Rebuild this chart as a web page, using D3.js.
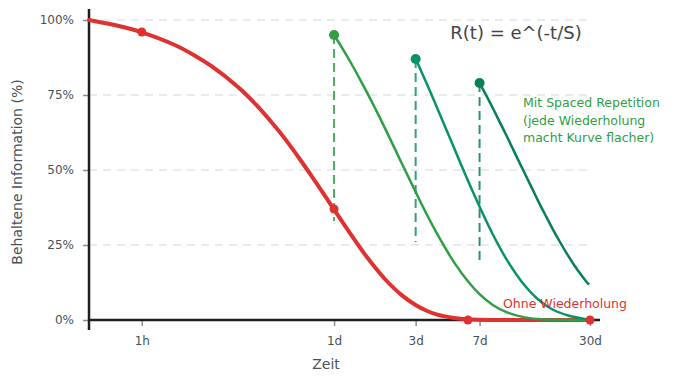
<!DOCTYPE html>
<html>
<head>
<meta charset="utf-8">
<script src="https://cdn.jsdelivr.net/npm/d3@7"></script>
<style>
  body { margin: 0; background: #fff; }
  text { font-family: "DejaVu Sans", "Noto Sans", sans-serif; }
</style>
</head>
<body>
<script>
var width = 696;
var height = 385;

// x in hours, y in percent
var yTicks = [0, 25, 50, 75, 100];
var xTickHours = [1, 24, 72, 168, 720];
var xTickLabels = ["1h", "1d", "3d", "7d", "30d"];

var redHours = [0, 0.5, 1, 2, 3, 4, 6, 8, 10, 12, 15, 18, 21, 24, 30, 36, 42, 48, 60, 72, 84, 96, 120, 144, 200, 300, 720];
var redValues = [100, 97.9, 95.9, 92, 88.2, 84.6, 77.9, 71.7, 65.9, 60.7, 53.5, 47.2, 41.7, 36.8, 28.7, 22.3, 17.4, 13.5, 8.2, 5, 3, 1.8, 0.7, 0.25, 0.02, 0, 0];
var redDotHours = [1, 24, 144, 720];
var redDotValues = [96, 37, 0, 0];

var rep1Hours = [24, 27, 30, 36, 42, 48, 60, 72, 84, 96, 120, 144, 168, 200, 240, 300, 360, 480, 720];
var rep1Values = [95, 90.4, 86, 77.8, 70.4, 63.7, 52.1, 42.7, 34.9, 28.6, 19.2, 12.9, 8.6, 5, 2.6, 0.96, 0.35, 0.05, 0];
var rep2Hours = [72, 78, 84, 90, 96, 108, 120, 132, 144, 168, 200, 240, 290, 360, 440, 540, 640, 720];
var rep2Values = [87, 82.6, 78.4, 74.4, 70.6, 63.6, 57.3, 51.6, 46.5, 37.8, 28.6, 20.2, 13.1, 7.1, 3.5, 1.5, 0.6, 0];
var rep3Hours = [168, 180, 190, 205, 220, 240, 260, 280, 298, 330, 363, 400, 440, 485, 530, 580, 640, 680, 711];
var rep3Values = [79, 75.8, 73.2, 69.4, 65.8, 61.4, 57.2, 53.3, 50.1, 44.8, 39.8, 35, 30.4, 26, 22.2, 18.6, 15.1, 13.1, 11.8];

var peakHours = [24, 72, 168];
var peakValues = [95, 87, 79];
var dropValues = [33, 26, 19.5];
var repColors = ["#2f9e44", "#099268", "#087f5b"];

var svg = d3.select("body").append("svg").attr("width", width).attr("height", height);

var x = d3.scaleSymlog().constant(1).domain([0, 720]).range([89, 590]);
var y = d3.scaleLinear().domain([0, 100]).range([320, 20]);

// grid
svg.selectAll("line.grid")
    .data(yTicks.filter(function (d) { return d > 0; }))
    .enter()
    .append("line")
    .attr("class", "grid")
    .attr("x1", 89).attr("x2", 590)
    .attr("y1", function (d) { return y(d); })
    .attr("y2", function (d) { return y(d); })
    .style("stroke", "#e1e5ea")
    .style("stroke-width", 1.5)
    .style("stroke-dasharray", "8,6");

// y axis
var yAxis = svg.append("g").attr("transform", "translate(89,0)")
    .call(d3.axisLeft(y).tickValues(yTicks).tickSize(6).tickFormat(function (d) { return d + "%"; }));
yAxis.select(".domain").remove();
yAxis.selectAll(".tick line").style("stroke", "#868e96").style("stroke-width", 1.5);
yAxis.selectAll(".tick text").attr("x", -15).style("font-size", "12px").style("fill", "#495057");

// x axis
var xAxis = svg.append("g").attr("transform", "translate(0,320)")
    .call(d3.axisBottom(x).tickValues(xTickHours).tickSize(6).tickFormat(function (d, i) { return xTickLabels[i]; }));
xAxis.select(".domain").remove();
xAxis.selectAll(".tick line").style("stroke", "#868e96").style("stroke-width", 1.5);
xAxis.selectAll(".tick text").attr("y", 16).style("font-size", "12px").style("fill", "#495057");

svg.append("line").attr("x1", 89).attr("x2", 600).attr("y1", 320).attr("y2", 320)
    .style("stroke", "#1e1e1e").style("stroke-width", 2.5);
svg.append("line").attr("x1", 89).attr("x2", 89).attr("y1", 9).attr("y2", 330)
    .style("stroke", "#1e1e1e").style("stroke-width", 2.5);

var line = d3.line()
    .x(function (d) { return x(d[0]); })
    .y(function (d) { return y(d[1]); })
    .curve(d3.curveCatmullRom.alpha(0.5));

function pairs(hs, vs) {
    return hs.map(function (h, i) { return [h, vs[i]]; });
}

// dashed drops at repetition
svg.selectAll("line.drop")
    .data(peakHours)
    .enter()
    .append("line")
    .attr("class", "drop")
    .attr("x1", function (d) { return x(d); })
    .attr("x2", function (d) { return x(d); })
    .attr("y1", function (d, i) { return y(peakValues[i]); })
    .attr("y2", function (d, i) { return y(dropValues[i]); })
    .style("stroke", function (d, i) { return repColors[i]; })
    .style("stroke-opacity", 0.85)
    .style("stroke-width", 2)
    .style("stroke-dasharray", "9,5");

// red curve
svg.append("path")
    .datum(pairs(redHours, redValues))
    .attr("d", line)
    .style("fill", "none")
    .style("stroke", "#e03131")
    .style("stroke-width", 4)
    .style("stroke-linecap", "round");

// repetition curves
var reps = [pairs(rep1Hours, rep1Values), pairs(rep2Hours, rep2Values), pairs(rep3Hours, rep3Values)];
svg.selectAll("path.rep")
    .data(reps)
    .enter()
    .append("path")
    .attr("class", "rep")
    .attr("d", line)
    .style("fill", "none")
    .style("stroke", function (d, i) { return repColors[i]; })
    .style("stroke-width", 2.5);

svg.selectAll("circle.red")
    .data(redDotHours)
    .enter()
    .append("circle")
    .attr("class", "red")
    .attr("cx", function (d) { return x(d); })
    .attr("cy", function (d, i) { return y(redDotValues[i]); })
    .attr("r", 4.5)
    .style("fill", "#e03131");

svg.selectAll("circle.peak")
    .data(peakHours)
    .enter()
    .append("circle")
    .attr("class", "peak")
    .attr("cx", function (d) { return x(d); })
    .attr("cy", function (d, i) { return y(peakValues[i]); })
    .attr("r", 5)
    .style("fill", function (d, i) { return repColors[i]; });

// texts
svg.append("text").attr("x", 516).attr("y", 39).attr("text-anchor", "middle")
    .style("font-size", "18px").style("fill", "#444").text("R(t) = e^(-t/S)");

var noteLines = ["Mit Spaced Repetition", "(jede Wiederholung", "macht Kurve flacher)"];
svg.selectAll("text.note")
    .data(noteLines)
    .enter()
    .append("text")
    .attr("class", "note")
    .attr("x", 523)
    .attr("y", function (d, i) { return 107 + i * 17.5; })
    .style("font-size", "12.5px")
    .style("fill", "#2f9e44")
    .text(function (d) { return d; });

svg.append("text").attr("x", 503).attr("y", 308)
    .style("font-size", "12.5px").style("fill", "#e03131").text("Ohne Wiederholung");

svg.append("text").attr("x", 326).attr("y", 369).attr("text-anchor", "middle")
    .style("font-size", "14px").style("fill", "#495057").text("Zeit");

svg.append("text").attr("transform", "translate(22,172) rotate(-90)").attr("text-anchor", "middle")
    .style("font-size", "14px").style("fill", "#495057").text("Behaltene Information (%)");
</script>
</body>
</html>
